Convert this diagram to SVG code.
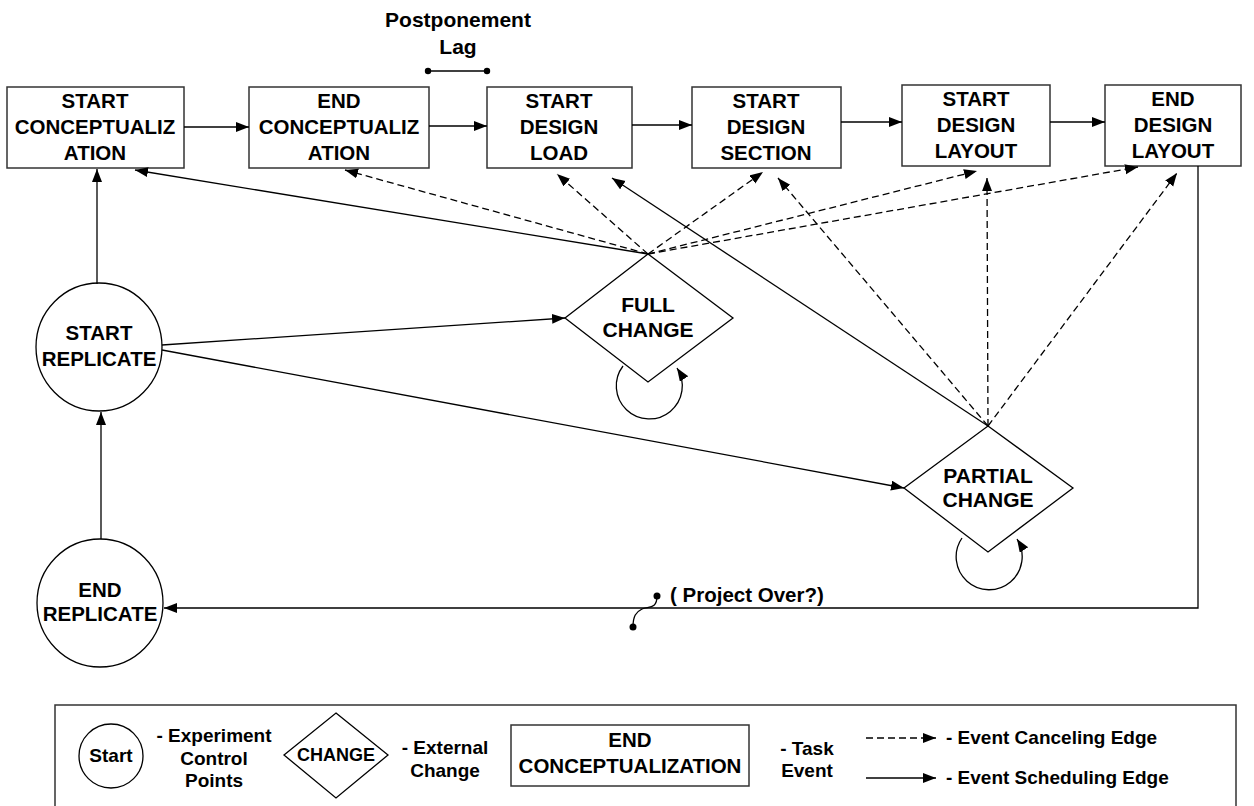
<svg xmlns="http://www.w3.org/2000/svg" width="1254" height="806" viewBox="0 0 1254 806">
<defs>
<marker id="ah" markerUnits="userSpaceOnUse" markerWidth="14" markerHeight="11" refX="13" refY="5" orient="auto">
<path d="M0,0 L13,5 L0,10 z" fill="#000"/>
</marker>
<style>
.box{fill:#fff;stroke:#333;stroke-width:1.5}
.shape{fill:#fff;stroke:#000;stroke-width:1.3}
.t{font-family:"Liberation Sans",Arial,sans-serif;font-weight:bold;fill:#000;text-anchor:middle}
.s{text-anchor:start}
.bt{font-size:20.5px}
.ct{font-size:20.5px}
.dt{font-size:21px}
.lt{font-size:19px}
.e{fill:none;stroke:#000;stroke-width:1.3;marker-end:url(#ah)}
.d{stroke-dasharray:7 4}
.ln{fill:none;stroke:#000;stroke-width:1.3}
</style>
</defs>
<rect width="1254" height="806" fill="#fff"/>

<g id="lag">
<text class="t" font-size="21" x="458" y="27">Postponement</text>
<text class="t" font-size="21" x="458" y="54">Lag</text>
<line class="ln" x1="428" y1="71" x2="487" y2="71"/>
<circle cx="428" cy="71" r="3.2"/><circle cx="487" cy="71" r="3.2"/>
</g>

<g id="n-start-concept">
<rect class="box" x="7" y="87" width="177" height="81"/>
<text class="t bt" x="95" y="108">START</text>
<text class="t bt" x="95" y="134">CONCEPTUALIZ</text>
<text class="t bt" x="95" y="160">ATION</text>
</g>
<g id="n-end-concept">
<rect class="box" x="249" y="87" width="180" height="81"/>
<text class="t bt" x="339" y="108">END</text>
<text class="t bt" x="339" y="134">CONCEPTUALIZ</text>
<text class="t bt" x="339" y="160">ATION</text>
</g>
<g id="n-start-load">
<rect class="box" x="487" y="87" width="145" height="81"/>
<text class="t bt" x="559" y="108">START</text>
<text class="t bt" x="559" y="134">DESIGN</text>
<text class="t bt" x="559" y="160">LOAD</text>
</g>
<g id="n-start-section">
<rect class="box" x="692" y="87" width="149" height="81"/>
<text class="t bt" x="766" y="108">START</text>
<text class="t bt" x="766" y="134">DESIGN</text>
<text class="t bt" x="766" y="160">SECTION</text>
</g>
<g id="n-start-layout">
<rect class="box" x="902" y="85" width="148" height="81"/>
<text class="t bt" x="976" y="106">START</text>
<text class="t bt" x="976" y="132">DESIGN</text>
<text class="t bt" x="976" y="158">LAYOUT</text>
</g>
<g id="n-end-layout">
<rect class="box" x="1105" y="85" width="136" height="81"/>
<text class="t bt" x="1173" y="106">END</text>
<text class="t bt" x="1173" y="132">DESIGN</text>
<text class="t bt" x="1173" y="158">LAYOUT</text>
</g>

<g id="n-start-replicate">
<ellipse class="shape" cx="99" cy="347" rx="63" ry="64"/>
<text class="t ct" x="99" y="340">START</text>
<text class="t ct" x="99" y="366">REPLICATE</text>
</g>
<g id="n-end-replicate">
<ellipse class="shape" cx="100" cy="603" rx="63" ry="64"/>
<text class="t ct" x="100" y="597">END</text>
<text class="t ct" x="100" y="621">REPLICATE</text>
</g>

<g id="n-full-change">
<polygon class="shape" points="648,254 733,318 648,382 565,318"/>
<text class="t dt" x="648" y="312">FULL</text>
<text class="t dt" x="648" y="337">CHANGE</text>
</g>
<g id="n-partial-change">
<polygon class="shape" points="988,426 1073,488 988,552 904,488"/>
<text class="t dt" x="988" y="483">PARTIAL</text>
<text class="t dt" x="988" y="507">CHANGE</text>
</g>

<g id="connectors">
<path class="e" d="M184,127 L249,127"/>
<path class="e" d="M429,126 L487,126"/>
<path class="e" d="M632,125 L692,125"/>
<path class="e" d="M841,122 L902,122"/>
<path class="e" d="M1050,122 L1105,122"/>
<path class="e" d="M97,284 L97,169"/>
<path class="e" d="M101,539 L101,412"/>
<path class="e" d="M1198,166 L1198,608 L164,608"/>
<path class="e" d="M162,345 L565,318"/>
<path class="e" d="M162,350 L904,488"/>
<path class="e" d="M648,254 L135,170"/>
<path class="e d" d="M648,254 L345,170"/>
<path class="e d" d="M648,254 L557,174"/>
<path class="e d" d="M648,254 L763,172"/>
<path class="e d" d="M648,254 L977,171"/>
<path class="e d" d="M648,254 L1138,167"/>
<path class="e" d="M988,426 L612,178"/>
<path class="e d" d="M988,426 L778,178"/>
<path class="e d" d="M988,426 L987,178"/>
<path class="e d" d="M988,426 L1177,173"/>
<path class="e" d="M623,366 A33 33 0 1 0 677,368"/>
<path class="e" d="M962,538 A33 33 0 1 0 1017,539"/>
<path class="ln" d="M657,596 C657,610 648,606 642,609 C636,612 633,616 633,627"/>
<circle cx="657" cy="596" r="3.5"/><circle cx="633" cy="627" r="3.5"/>
<text class="t s" font-size="20.5" x="670" y="602">( Project Over?)</text>
</g>

<g id="legend">
<rect x="55" y="705" width="1181" height="110" fill="none" stroke="#333" stroke-width="1.5"/>
<ellipse class="shape" cx="111" cy="756" rx="32" ry="32"/>
<text class="t lt" x="111" y="762">Start</text>
<text class="t lt" x="214" y="742">- Experiment</text>
<text class="t lt" x="214" y="765">Control</text>
<text class="t lt" x="214" y="787">Points</text>
<polygon class="shape" points="336,713 388,755 336,798 284,755"/>
<text class="t" font-size="18" x="336" y="761">CHANGE</text>
<text class="t lt" x="445" y="754">- External</text>
<text class="t lt" x="445" y="777">Change</text>
<rect class="box" x="511" y="725" width="238" height="61"/>
<text class="t" font-size="20.5" x="630" y="747">END</text>
<text class="t" font-size="20.5" x="630" y="773">CONCEPTUALIZATION</text>
<text class="t lt" x="807" y="755">- Task</text>
<text class="t lt" x="807" y="777">Event</text>
<path class="e d" d="M866,738 L936,738"/>
<path class="e" d="M866,778 L936,778"/>
<text class="t lt s" x="946" y="744">- Event Canceling Edge</text>
<text class="t lt s" x="946" y="784">- Event Scheduling Edge</text>
</g>
</svg>
